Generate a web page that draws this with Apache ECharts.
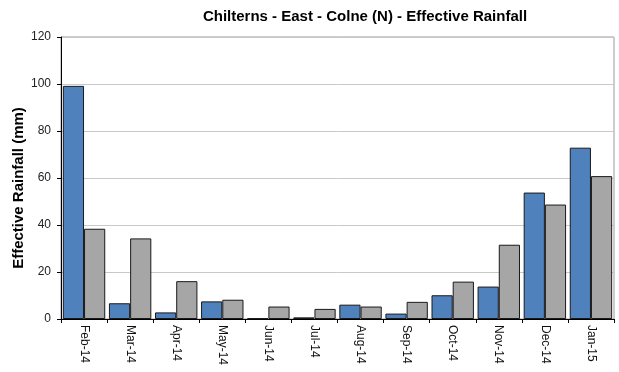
<!DOCTYPE html>
<html>
<head>
<meta charset="utf-8">
<script src="https://cdn.jsdelivr.net/npm/echarts@6/dist/echarts.min.js"></script>
<style>
html,body{margin:0;padding:0;background:#fff;}
#chart{width:619px;height:372px;}
</style>
</head>
<body>
<div id="chart"></div>
<script>
var categories = ['Feb-14','Mar-14','Apr-14','May-14','Jun-14','Jul-14','Aug-14','Sep-14','Oct-14','Nov-14','Dec-14','Jan-15'];
var seriesBlue = [99.2, 6.7, 2.8, 7.5, 0.3, 0.7, 6.1, 2.3, 10.1, 13.8, 53.8, 72.9];
var seriesGray = [38.4, 34.3, 16.1, 8.2, 5.3, 4.3, 5.3, 7.3, 15.9, 31.6, 48.7, 60.8];
var yTicks = { min: 0, max: 120, interval: 20 };
var titleText = 'Chilterns - East - Colne (N) - Effective Rainfall';
var yAxisName = 'Effective Rainfall (mm)';

var FONT = 'Liberation Sans, Arial, sans-serif';
var chart = echarts.init(document.getElementById('chart'), null, {renderer: 'canvas'});
chart.setOption({
  animation: false,
  backgroundColor: '#fff',
  textStyle: { fontFamily: FONT },
  title: {
    text: titleText,
    left: 360,
    top: 4,
    textAlign: 'center',
    textStyle: { fontSize: 15, fontWeight: 'bold', color: '#000', fontFamily: FONT }
  },
  grid: {
    left: 61, right: 5, top: 37, bottom: 53,
    containLabel: false,
    outerBoundsMode: 'none',
    show: true, borderColor: '#9a9a9a', borderWidth: 1, backgroundColor: '#fff'
  },
  xAxis: {
    type: 'category',
    data: categories,
    axisLine: { lineStyle: { color: '#000', width: 1 } },
    axisTick: { show: true, length: 4, lineStyle: { color: '#000' } },
    axisLabel: { rotate: -90, margin: 6, fontSize: 12, color: '#111', fontFamily: FONT }
  },
  yAxis: {
    type: 'value',
    min: yTicks.min, max: yTicks.max, interval: yTicks.interval,
    name: yAxisName,
    nameLocation: 'middle',
    nameGap: 35,
    nameMoveOverlap: false,
    nameTextStyle: { fontSize: 15, fontWeight: 'bold', color: '#000', padding: [0, 20, 0, 0], fontFamily: FONT },
    axisLine: { show: true, lineStyle: { color: '#000', width: 1 } },
    axisTick: { show: true, length: 4, lineStyle: { color: '#000' } },
    axisLabel: { fontSize: 12, color: '#222', margin: 10, fontFamily: FONT },
    splitLine: { show: true, lineStyle: { color: '#c8c8c8', width: 1 } }
  },
  series: [
    {
      type: 'bar', data: seriesBlue, barGap: '0%', barCategoryGap: '8%',
      itemStyle: { color: '#4F81BD', borderColor: '#1a1a1a', borderWidth: 1 }
    },
    {
      type: 'bar', data: seriesGray, barGap: '0%', barCategoryGap: '8%',
      itemStyle: { color: '#A6A6A6', borderColor: '#1a1a1a', borderWidth: 1 }
    }
  ]
});
</script>
</body>
</html>
